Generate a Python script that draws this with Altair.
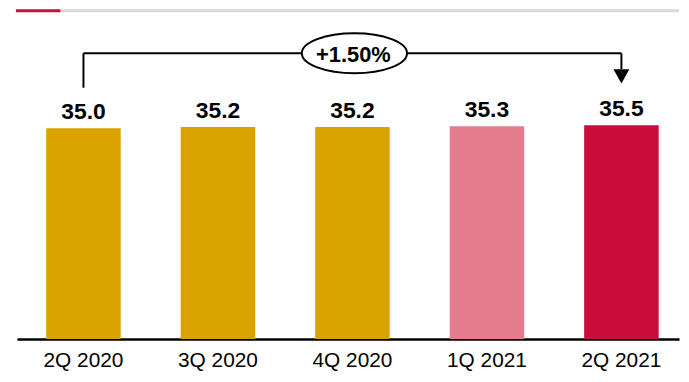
import altair as alt
import pandas as pd

quarters = ["2Q 2020", "3Q 2020", "4Q 2020", "1Q 2021", "2Q 2021"]
values = [35.0, 35.2, 35.2, 35.3, 35.5]
bar_colors = ["#D9A300", "#D9A300", "#D9A300", "#E47C8D", "#CB0D3C"]
change_label = "+1.50%"

df = pd.DataFrame({"q": quarters, "v": values, "lbl": [f"{v:.1f}" for v in values]})

W, H = 667, 332
YMAX = 54.73
FONT = "Liberation Sans, Arial, sans-serif"

xscale = alt.Scale(domain=quarters, paddingInner=0.446, paddingOuter=0.1845, align=0.59)
xenc = alt.X("q:N", scale=xscale, sort=None,
             axis=alt.Axis(title=None, labelAngle=0, ticks=False, domainColor="#000000",
                           domainWidth=2.5, labelFontSize=21, labelFont=FONT,
                           labelColor="#000000", labelPadding=11, grid=False))
yscale = alt.Scale(domain=[0, YMAX], nice=False, zero=True)
yenc = alt.Y("v:Q", scale=yscale, axis=None)


def X(field):
    return alt.X(field, scale=xscale, sort=None)


def Y(field):
    return alt.Y(field, scale=yscale)


base = alt.Chart(df)

bars = base.mark_bar().encode(
    x=xenc, y=yenc,
    color=alt.Color("q:N", scale=alt.Scale(domain=quarters, range=bar_colors), legend=None),
)

labels = base.mark_text(font=FONT, fontSize=23, fontWeight="bold", baseline="alphabetic",
                        dy=-9.5, color="#000000").encode(
    x=X("q:N"), y=Y("v:Q"), text="lbl:N")

# bracket annotation
br = pd.DataFrame({"x1": [quarters[0]], "x2": [quarters[-1]], "y": [47.43]})
hline = alt.Chart(br).mark_rule(color="#000000", strokeWidth=2).encode(
    x=X("x1:N"), x2="x2:N", y=Y("y:Q"))

vl = pd.DataFrame({"q": [quarters[0], quarters[-1]], "y1": [41.71, 44.8], "y2": [47.43, 47.43]})
vlines = alt.Chart(vl).mark_rule(color="#000000", strokeWidth=2).encode(
    x=X("q:N"), y=Y("y1:Q"), y2="y2:Q")

arr = pd.DataFrame({"q": [quarters[-1]], "y": [43.6]})
arrow = alt.Chart(arr).mark_point(shape="M-1,-0.9L1,-0.9L0,0.9Z", size=256, filled=True,
                                  color="#000000", opacity=1).encode(
    x=X("q:N"), y=Y("y:Q"))

ell = pd.DataFrame({"q": [quarters[2]], "y": [47.43], "t": [change_label]})
ellipse = alt.Chart(ell).mark_point(shape="M-1,0A1,0.38,0,1,0,1,0A1,0.38,0,1,0,-1,0Z",
                                    size=11236, filled=False, fill="#ffffff", fillOpacity=1,
                                    stroke="#000000", strokeWidth=2, opacity=1,
                                    xOffset=2).encode(
    x=X("q:N"), y=Y("y:Q"))
etext = alt.Chart(ell).mark_text(font=FONT, fontSize=22, fontWeight="bold", baseline="alphabetic",
                                 dy=8.5, dx=1, color="#000000").encode(
    x=X("q:N"), y=Y("y:Q"), text="t:N")

# top decorative line
red_top = alt.Chart(pd.DataFrame({"a": [0]})).mark_rule(color="#CB0D3C", strokeWidth=3).encode(
    x=alt.value(-1), x2=alt.value(44), y=alt.value(1.5))
gray_top = alt.Chart(pd.DataFrame({"a": [0]})).mark_rule(color="#D9D9D9", strokeWidth=3).encode(
    x=alt.value(44), x2=alt.value(W), y=alt.value(1.5))

chart = alt.layer(bars, labels, hline, vlines, arrow, ellipse, etext, red_top, gray_top).properties(
    width=W, height=H,
    padding={"left": 6, "top": 0, "right": 0, "bottom": 0},
    background="#ffffff",
).configure_view(stroke=None)

chart.save("out.html", embed_options={"renderer": "svg", "actions": False})
